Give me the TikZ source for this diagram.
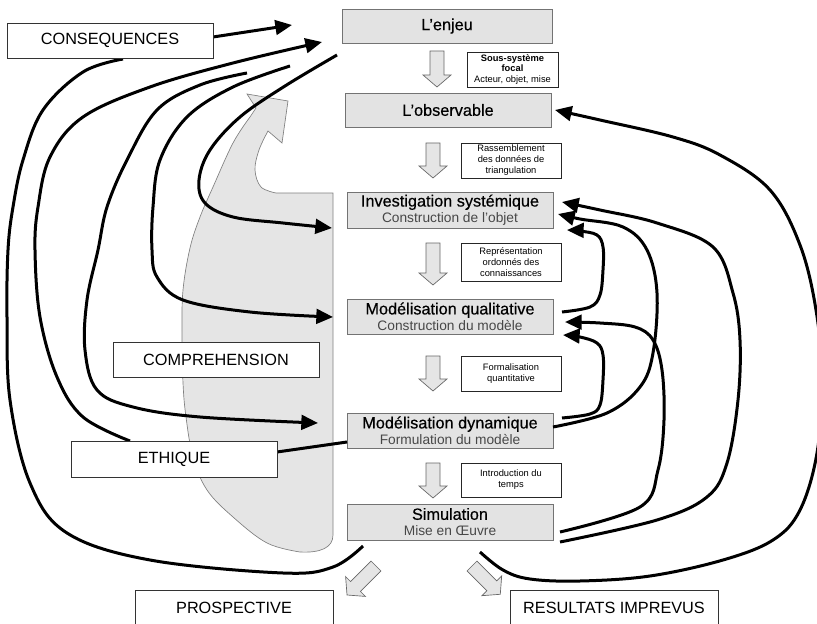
\documentclass[tikz,border=0pt]{standalone}
\usepackage{fontspec}
\setmainfont{Liberation Sans}
\usetikzlibrary{arrows.meta}

% second line of a stage box, smaller and grey
\newcommand\subline[1]{{\normalfont\fontsize{10.3}{12}\selectfont\color{black!72}#1}}

\tikzset{
  stage/.style={draw=black!55, line width=0.5pt, fill=black!11, inner sep=0pt,
    align=center, minimum width=154.5pt, minimum height=26.25pt,
    font=\fontsize{12.2}{12}\selectfont\addfontfeatures{FakeBold=0.4}},
  note/.style={draw=black!85, line width=0.5pt, fill=white, inner sep=0pt,
    align=center, minimum width=75pt, minimum height=26.25pt,
    font=\fontsize{7}{8.25}\selectfont},
  outer/.style={draw=black!80, line width=0.5pt, fill=white, inner sep=0pt,
    minimum width=154.5pt, minimum height=26.25pt,
    font=\fontsize{12.2}{14}\selectfont},
  link/.style={line width=2.25pt, -{Triangle[length=12.5pt,width=11pt]}},
  plain/.style={line width=2.25pt},
  block/.style={draw=black!60, line width=0.5pt, fill=black!10, line join=miter},
  pics/blockdown/.style={code={
    \filldraw[block] (-7,0) -- (-7,#1-12) -- (-14,#1-12) -- (0,#1)
      -- (14,#1-12) -- (7,#1-12) -- (7,0) -- cycle;}},
}

\begin{document}
\begin{tikzpicture}[x=0.75pt,y=-0.75pt]
\useasboundingbox (0,0) rectangle (817,624);

% large grey bent arrow behind the left half
\filldraw[draw=black!50, line width=0.5pt, fill=black!10]
  (333,193) -- (333,535) .. controls (333,548) and (320,553) .. (300,552)
  -- plot[smooth, tension=0.6] coordinates {(300,552) (267,543) (233,517) (207,490)
      (193,457) (186,417) (183,383) (182,333) (183,290) (190,248) (200,217)
      (213,187) (233,143) (250,117)}
  -- (256,108) -- (247,94) -- (288,101) -- (282,143) -- (268,131)
  -- plot[smooth, tension=0.6] coordinates {(268,131) (259,150) (255,170) (261,187) (276,193)}
  -- cycle;

% stages
\node[stage, minimum width=157.5pt, minimum height=25.5pt] (enjeu) at (447,26) {L’enjeu};
\node[stage, minimum height=25.5pt] (obs) at (448,110) {L’observable};
\node[stage, minimum height=27pt] (inv) at (450,210)
  {Investigation systémique\\\subline{Construction de l’objet}};
\node[stage] (qual) at (450,316.5)
  {Modélisation qualitative\\\subline{Construction du modèle}};
\node[stage] (dyn) at (450,430.5)
  {Modélisation dynamique\\\subline{Formulation du modèle}};
\node[stage, minimum height=27pt] (sim) at (450,522)
  {Simulation\\\subline{Mise en Œuvre}};

% notes beside the flow
\node[note, minimum width=68.25pt, font=\fontsize{7}{8}\selectfont] (focal) at (512.5,69.5)
  {\textbf{Sous-système}\\\textbf{focal}\\Acteur, objet, mise};
\node[note] (rass) at (511,160.5) {Rassemblement\\des données de\\triangulation};
\node[note, minimum height=28.5pt] (repr) at (511,262) {Représentation\\ordonnés des\\connaissances};
\node[note] (form) at (511,373.5) {Formalisation\\quantitative};
\node[note, minimum height=25.5pt] (intro) at (511,480) {Introduction du\\temps};

% hollow block arrows
\pic at (437,51) {blockdown=36};
\pic at (433,143) {blockdown=35};
\pic at (433,243) {blockdown=42};
\pic at (433,356) {blockdown=35};
\pic at (433,463) {blockdown=35};
\pic[rotate=-45] at (376,566) {blockdown=41};
\pic[rotate=45] at (472,566) {blockdown=40};

% end points of the curved links
\coordinate (consR)   at (213,37);
\coordinate (consB)   at (123,59);
\coordinate (enjeuA)  at (292,25);
\coordinate (enjeuB)  at (322,42);
\coordinate (simFoot) at (363,546);
\coordinate (ethTop)  at (130,441);
\coordinate (ethR)    at (277,452);
\coordinate (dynL)    at (347,442);
\coordinate (freeA)   at (247,73);
\coordinate (freeB)   at (290,66);
\coordinate (freeC)   at (337,55);
\coordinate (dynTip)  at (318,423);
\coordinate (qualTip) at (333,317);
\coordinate (invTip)  at (332,228);
\coordinate (simFootR) at (480,552);
\coordinate (obsTip)  at (555,110);
\coordinate (simR2)   at (560,542);
\coordinate (simR3)   at (560,532);
\coordinate (invTipA) at (562,202);
\coordinate (invTipB) at (558,214);
\coordinate (invTipC) at (567,230);
\coordinate (qualTipA) at (565,322);
\coordinate (qualTipB) at (563,335);
\coordinate (dynR)    at (553,427);
\coordinate (dynR2)   at (562,418);
\coordinate (qualR)   at (562,312);

% links on the left
\draw[link] (consR) -- (enjeuA);
\draw[plain] plot[smooth, tension=0.6] coordinates {(simFoot) (333,567) (283,573) (150,560)
  (67,533) (30,483) (10,400) (7,317) (8,250) (13,207) (23,160) (43,110) (83,72) (consB)};
\draw[link] plot[smooth, tension=0.6] coordinates {(ethTop) (83,417) (57,377) (40,317)
  (35,250) (38,207) (50,157) (83,117) (150,87) (233,63) (enjeuB)};
\draw[link] plot[smooth, tension=0.6] coordinates {(freeA) (200,85) (157,110) (127,160)
  (107,207) (98,250) (87,300) (85,350) (97,390) (133,407) (200,417) (dynTip)};
\draw[link] plot[smooth, tension=0.6] coordinates {(freeB) (233,87) (187,117) (160,160)
  (153,207) (152,250) (157,277) (183,300) (250,312) (qualTip)};
\draw[link] plot[smooth, tension=0.6] coordinates {(freeC) (285,86) (240,117) (210,150)
  (199,180) (205,203) (233,217) (283,223) (invTip)};
\draw[plain] (ethR) -- (dynL);

% links on the right
\draw[link] plot[smooth, tension=0.6] coordinates {(simFootR) (503,570) (530,579) (580,581)
  (650,576) (723,560) (773,540) (800,510) (817,453) (822,380) (816,310) (800,245)
  (770,190) (720,155) (673,137) (600,120) (obsTip)};
\draw[link] plot[smooth, tension=0.6] coordinates {(simR2) (657,520) (707,497) (727,463)
  (738,400) (740,340) (733,293) (713,247) (657,223) (600,210) (invTipA)};
\draw[link] plot[smooth, tension=0.6] coordinates {(simR3) (640,507) (658,470) (664,420)
  (662,370) (653,340) (635,327) (600,323) (qualTipA)};
\draw[link] plot[smooth, tension=0.6] coordinates {(dynR) (607,413) (640,387) (653,353)
  (657,293) (647,250) (623,227) (580,219) (invTipB)};
\draw[link] plot[smooth, tension=0.6] coordinates {(dynR2) (590,414) (600,405) (603,380)
  (603,355) (597,343) (580,337) (qualTipB)};
\draw[link] plot[smooth, tension=0.6] coordinates {(qualR) (590,307) (600,295) (603,270)
  (603,247) (597,235) (580,231) (invTipC)};

% outer labels
\node[outer] (cons) at (110,40.5) {CONSEQUENCES};
\node[outer] (compr) at (216,359.5) {COMPREHENSION};
\node[outer, minimum height=27pt] (eth) at (174,459) {ETHIQUE};
\node[outer, minimum width=148.5pt, minimum height=27pt] (prosp) at (234,608) {PROSPECTIVE};
\node[outer, minimum width=156pt, minimum height=27pt] (imprev) at (614,608) {RESULTATS IMPREVUS};
\end{tikzpicture}
\end{document}
